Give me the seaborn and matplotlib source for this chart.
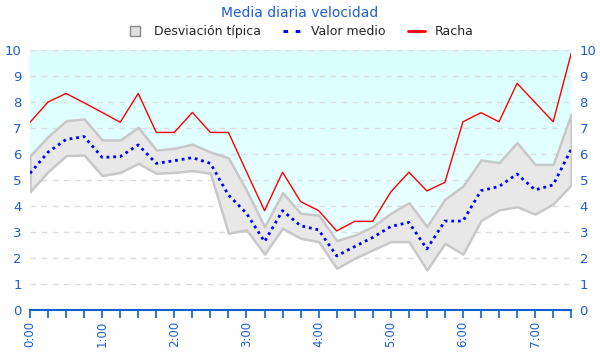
import numpy as np
import pandas as pd
import matplotlib
matplotlib.use("Agg")
import matplotlib.pyplot as plt
from matplotlib.lines import Line2D
import seaborn as sns

times = ["0:00", "0:15", "0:30", "0:45", "1:00", "1:15", "1:30", "1:45",
         "2:00", "2:15", "2:30", "2:45", "3:00", "3:15", "3:30", "3:45",
         "4:00", "4:15", "4:30", "4:45", "5:00", "5:15", "5:30", "5:45",
         "6:00", "6:15", "6:30", "6:45", "7:00", "7:15", "7:30"]
racha = [7.22, 8.0, 8.33, 7.97, 7.6, 7.22, 8.33, 6.83, 6.83, 7.6, 6.83, 6.83,
         5.32, 3.82, 5.3, 4.17, 3.82, 3.04, 3.41, 3.41, 4.54, 5.3, 4.58, 4.91,
         7.24, 7.59, 7.24, 8.72, 7.98, 7.24, 9.87]
media = [5.26, 6.07, 6.56, 6.67, 5.87, 5.9, 6.35, 5.64, 5.74, 5.86, 5.64, 4.42,
         3.72, 2.63, 3.82, 3.24, 3.08, 2.08, 2.44, 2.79, 3.21, 3.37, 2.35, 3.42,
         3.42, 4.59, 4.75, 5.23, 4.62, 4.81, 6.18]
desv_sup = [5.93, 6.67, 7.28, 7.35, 6.54, 6.54, 7.03, 6.15, 6.22, 6.38, 6.08, 5.85,
            4.6, 3.2, 4.51, 3.72, 3.65, 2.67, 2.88, 3.21, 3.72, 4.13, 3.21, 4.26,
            4.77, 5.77, 5.67, 6.44, 5.6, 5.6, 7.54]
desv_inf = [4.55, 5.32, 5.94, 5.96, 5.17, 5.29, 5.64, 5.26, 5.29, 5.36, 5.26, 2.95,
            3.08, 2.15, 3.14, 2.76, 2.63, 1.6, 1.99, 2.31, 2.63, 2.63, 1.54, 2.56,
            2.15, 3.44, 3.85, 3.97, 3.69, 4.08, 4.81]
hour_labels = ["0:00", "1:00", "2:00", "3:00", "4:00", "5:00", "6:00", "7:00"]

def to_hours(t):
    h, m = t.split(":")
    return int(h) + int(m) / 60.0

df = pd.DataFrame({
    "t": [to_hours(t) for t in times],
    "racha": racha,
    "media": media,
    "sup": desv_sup,
    "inf": desv_inf,
})

sns.set_theme(style="white")
plt.rcParams["font.family"] = ["DejaVu Sans"]
BLUE_TXT = "#1f5fd0"

fig = plt.figure(figsize=(6, 3.6), dpi=100)
ax = fig.add_axes([0.05, 0.139, 0.902, 0.722])

xmax = df["t"].iloc[-1]
ax.set_xlim(0, xmax)
ax.set_ylim(0, 10)

# cyan gradient region above the band
poly = ax.fill_between(df["t"], df["sup"], 10, color="none", lw=0)
grad = np.linspace(0, 1, 256).reshape(-1, 1)
cmap = matplotlib.colors.LinearSegmentedColormap.from_list("cy", ["#f2ffff", "#d9ffff"])
im = ax.imshow(grad, extent=[0, xmax, 0, 10], origin="lower", aspect="auto",
               cmap=cmap, zorder=0)
path = poly.get_paths()[0]
im.set_clip_path(path, transform=ax.transData)

# grid
for v in range(1, 11):
    ax.axhline(v, color="#dddddd", lw=1, ls=(0, (4, 4)), zorder=1)

# std band
ax.fill_between(df["t"], df["inf"], df["sup"], facecolor="#e8e8e8",
                edgecolor="#c8c8c8", lw=1.8, zorder=2)

sns.lineplot(data=df, x="t", y="racha", ax=ax, color="#ff0000", lw=1.0, zorder=4)
sns.lineplot(data=df, x="t", y="media", ax=ax, color="#0000ff", lw=2.0,
             ls=(0, (1, 1.4)), zorder=3)

ax.set_xlabel("")
ax.set_ylabel("")

ax.set_xticks([to_hours(h) for h in hour_labels])
ax.set_xticklabels(hour_labels, rotation=90, color=BLUE_TXT, fontsize=8.5)
ax.set_xticks(df["t"], minor=True)
ax.tick_params(axis="x", which="both", direction="out", length=6, width=1.2,
               color="#1060d0", bottom=True, pad=2)
ax.set_yticks(range(0, 11))
ax.tick_params(axis="y", which="both", length=0, labelleft=True, labelright=True,
               labelcolor=BLUE_TXT, labelsize=9.5, pad=6)
for s in ["top", "left", "right"]:
    ax.spines[s].set_visible(False)
ax.spines["bottom"].set_color("#1060d0")
ax.spines["bottom"].set_linewidth(1.5)
ax.spines["bottom"].set_zorder(5)

fig.text(0.5, 0.965, "Media diaria velocidad", ha="center", va="center",
         color=BLUE_TXT, fontsize=10)
handles = [
    Line2D([], [], marker="s", ls="none", markersize=7, markerfacecolor="#e0e0e0",
           markeredgecolor="#888888"),
    Line2D([], [], color="#0000ff", lw=2.2, ls=(0, (1.5, 2.5))),
    Line2D([], [], color="#ff0000", lw=2),
]
fig.legend(handles, ["Desviación típica", "Valor medio", "Racha"], ncol=3,
           loc="center", bbox_to_anchor=(0.5, 0.912), frameon=False, fontsize=9,
           handlelength=1.4, columnspacing=1.8, handletextpad=0.8)

fig.savefig("out.png", dpi=100, facecolor="white")
